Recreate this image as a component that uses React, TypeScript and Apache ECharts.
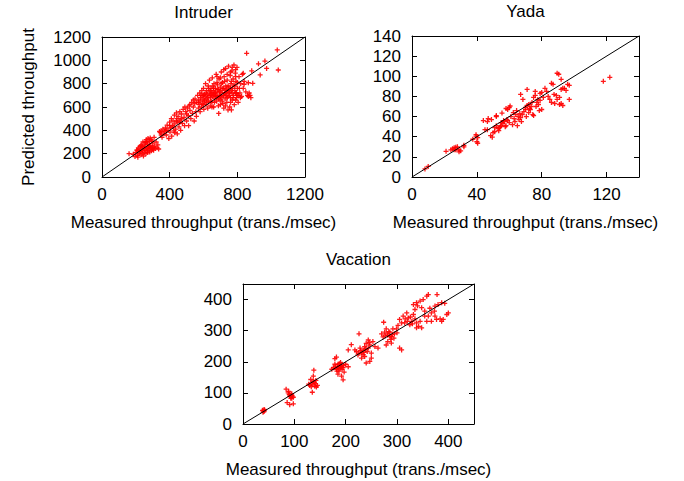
import React, { useEffect, useRef } from "react";
import * as echarts from "echarts";

// ---------- data ----------
const INTRUDER_TITLE = "Intruder";
const YADA_TITLE = "Yada";
const VACATION_TITLE = "Vacation";
const X_NAME = "Measured throughput (trans./msec)";
const Y_NAME = "Predicted throughput";

const INTRUDER_AXIS = { max: 1200, xInterval: 400, yInterval: 200 };
const YADA_AXIS = { max: 140, xInterval: 40, yInterval: 20 };
const VACATION_AXIS = { max: 450, xInterval: 100, yInterval: 100 };

const INTRUDER_POINTS: number[][] = [
  [160, 200], [185, 195], [195, 175], [200, 210], [205, 230], [210, 185], [212, 170], [215, 250], [220, 200], [222, 215],
  [225, 260], [230, 190], [232, 240], [235, 275], [238, 205], [240, 225], [242, 300], [245, 180], [248, 250], [250, 210],
  [252, 265], [255, 235], [258, 290], [260, 200], [262, 320], [265, 245], [268, 225], [270, 280], [272, 330], [275, 255],
  [278, 240], [280, 305], [282, 215], [285, 335], [288, 270], [290, 250], [292, 225], [295, 310], [298, 240], [300, 290],
  [302, 255], [305, 230], [308, 340], [310, 265], [315, 245], [320, 300], [325, 250], [330, 275], [335, 240], [340, 390],
  [210, 230], [225, 220], [240, 260], [255, 300], [265, 300], [280, 260], [300, 240], [290, 320], [270, 210], [230, 270],
  [345, 380], [350, 395], [355, 340], [360, 410], [365, 370], [370, 390], [375, 420], [380, 360], [385, 445], [390, 400],
  [395, 330], [400, 470], [402, 385], [405, 420], [410, 500], [412, 350], [415, 440], [420, 480], [425, 395], [428, 530],
  [430, 455], [435, 410], [440, 550], [442, 500], [445, 370], [448, 470], [450, 520], [455, 430], [460, 560], [462, 490],
  [465, 400], [470, 540], [475, 460], [480, 580], [485, 510], [488, 440], [490, 600], [495, 560], [500, 480], [505, 590],
  [510, 525], [512, 440], [515, 610], [520, 570], [525, 500], [530, 640], [535, 545], [540, 600], [545, 480], [550, 670],
  [555, 560], [558, 520], [540, 660], [548, 630],
  [380, 400], [420, 430], [440, 480], [470, 500], [500, 540], [520, 620], [460, 470], [400, 440], [430, 380], [350, 360],
  [560, 640], [565, 700], [570, 590], [572, 660], [575, 620], [578, 720], [580, 560], [582, 680], [585, 650], [588, 600],
  [590, 740], [592, 700], [595, 630], [598, 670], [600, 760], [602, 580], [605, 710], [608, 650], [610, 690], [612, 800],
  [615, 620], [618, 740], [620, 670], [622, 710], [625, 590], [628, 780], [630, 650], [632, 700], [635, 830], [638, 730],
  [640, 610], [642, 680], [645, 760], [648, 710], [650, 640], [652, 850], [655, 690], [658, 740], [660, 600], [662, 800],
  [665, 720], [668, 670], [670, 760], [672, 700], [675, 880], [678, 650], [680, 730], [682, 790], [685, 690], [688, 610],
  [690, 750], [692, 840], [695, 700], [698, 660], [700, 770], [702, 720], [705, 900], [708, 680], [710, 740], [712, 810],
  [715, 630], [718, 700], [720, 760], [722, 860], [725, 720], [728, 670], [730, 930], [732, 780], [735, 700], [738, 640],
  [740, 830], [742, 740], [745, 690], [748, 950], [750, 770], [752, 720], [755, 600], [758, 870], [760, 680], [762, 800],
  [765, 740], [768, 910], [770, 660], [772, 760], [775, 840], [778, 700], [780, 960], [782, 620], [785, 780], [788, 890],
  [790, 720], [792, 820], [795, 680], [798, 940], [800, 760], [805, 640], [810, 860], [815, 720], [820, 800], [825, 690],
  [830, 880], [835, 760], [840, 820], [850, 730], [860, 700], [865, 690], [870, 720], [875, 700], [880, 680], [690, 545],
  [745, 575], [765, 575], [720, 590],
  [600, 700], [605, 660], [615, 720], [625, 680], [630, 760], [640, 700], [645, 650], [650, 720], [655, 780], [660, 700],
  [665, 640], [670, 720], [675, 690], [680, 810], [685, 750], [690, 670], [695, 730], [700, 690], [705, 800], [710, 650],
  [715, 760], [720, 700], [725, 820], [730, 720], [735, 750], [740, 680], [745, 780], [750, 730], [755, 700], [760, 760],
  [765, 820], [770, 720], [775, 680], [780, 790], [785, 740], [790, 860], [795, 720], [800, 810], [808, 700], [812, 760],
  [818, 680], [760, 900], [740, 880], [720, 920], [700, 850], [680, 860], [660, 760], [640, 740], [620, 640], [600, 620],
  [585, 700], [570, 640], [650, 600], [700, 620], [730, 610], [760, 640], [790, 660], [800, 700], [770, 940], [790, 920],
  [840, 795], [865, 808], [891, 803], [835, 889], [855, 1060], [885, 910], [925, 970], [935, 875], [963, 994], [973, 931],
  [1036, 1089], [1042, 917],
];

const YADA_POINTS: number[][] = [
  [8, 8], [10, 10.5], [21, 25.5], [24, 27], [25, 28], [26, 29], [26, 27], [27, 29.5], [27, 27], [28, 30],
  [29, 27], [30, 26], [29, 25], [32, 31.5], [32, 30], [37.5, 37.5], [39.5, 42], [39.5, 40.5], [40.5, 39], [40, 35],
  [40.5, 33.5], [44, 56], [45, 47], [46.5, 47], [46.5, 55], [47, 58], [48.5, 41], [49.5, 39.5], [49, 57], [50, 44],
  [51, 45], [51, 49], [52, 61], [52, 60], [52, 51], [53, 48], [53.5, 46], [54, 49], [54.5, 50], [55, 51], [55, 54],
  [55.5, 63.5], [56, 53], [56.5, 56], [57, 55], [57.5, 50], [58, 51], [58, 68], [58.5, 57], [59, 56], [59, 67],
  [60, 54], [60, 69], [60.5, 70.5], [61, 60], [62, 52], [62.5, 64], [63, 58], [63.5, 55], [64, 62], [64.5, 66],
  [65, 51], [65.5, 60], [66, 57], [66.5, 63], [67, 59], [67, 82], [67.5, 55], [68, 62], [68.4, 77], [69, 65],
  [70, 69], [70, 67], [70.5, 60], [71, 71], [71, 87], [72, 72], [72, 64], [72.5, 68], [73, 67], [73.5, 70],
  [74, 74], [74.5, 62], [75, 61], [75, 79], [76, 81], [76, 85], [76.5, 70], [77, 74], [77.6, 77], [78, 72],
  [78.5, 66], [79, 76], [79, 83], [80, 67], [80, 84], [81, 79], [82, 88], [83, 85], [84, 80], [85, 77],
  [86, 74], [86, 93], [87, 92], [87.6, 82], [88, 73], [89, 81], [89.5, 77], [89.5, 103], [90.5, 102], [91, 79],
  [91, 72], [92, 73], [92, 97], [92, 87], [93, 88], [93, 71], [94, 88], [95, 86], [96, 92], [97, 91],
  [97, 77], [118, 95], [122, 99],
];

const VACATION_POINTS: number[][] = [
  [38, 44], [40, 42], [41, 40], [42, 45], [39, 38], [41, 47],
  [84, 112], [88, 100], [91, 89], [94, 94], [98, 86], [93, 83], [86, 69], [91, 62], [98, 65], [95, 83], [89, 105],
  [92, 91], [96, 90], [90, 95], [95, 97],
  [138, 173], [137, 154], [134, 132], [130, 124], [140, 121], [143, 119], [135, 102], [132, 143], [137, 138],
  [141, 130], [128, 128], [145, 124], [136, 126], [139, 134], [133, 120], [142, 140],
  [179, 210], [182, 215], [176, 181], [185, 192], [189, 187], [192, 190], [195, 181], [182, 176], [187, 170],
  [190, 198], [173, 176], [197, 167], [192, 154], [195, 142], [205, 184], [179, 192], [184, 184], [189, 178],
  [193, 176], [200, 192], [185, 160], [180, 186], [186, 180], [191, 184], [188, 194], [183, 170], [196, 188],
  [226, 290], [211, 255], [218, 238], [221, 233], [228, 244], [231, 228], [234, 238], [237, 249], [240, 259],
  [244, 270], [247, 254], [242, 233], [231, 212], [237, 217], [247, 201], [240, 196], [250, 228], [253, 265],
  [224, 222], [234, 223], [244, 244], [257, 249], [263, 244], [250, 212], [205, 238], [229, 236], [239, 241],
  [236, 230], [226, 228], [246, 262],
  [274, 327], [270, 290], [276, 295], [279, 306], [282, 285], [286, 295], [289, 280], [292, 306], [295, 290],
  [282, 265], [289, 260], [279, 254], [299, 306], [302, 317], [305, 244], [309, 238], [273, 280], [277, 283],
  [288, 272], [294, 276], [300, 293], [284, 297], [281, 290], [291, 288], [286, 282],
  [305, 336], [312, 347], [319, 357], [322, 341], [329, 330], [332, 352], [338, 325], [342, 314], [325, 319],
  [315, 325], [335, 338], [345, 330], [309, 325], [320, 330], [348, 309], [316, 338], [326, 344], [330, 322],
  [332, 384], [338, 390], [345, 395], [351, 400], [358, 411], [361, 416], [378, 416], [335, 368], [348, 374],
  [354, 363], [367, 357], [374, 379], [380, 384], [387, 390], [393, 388], [400, 357], [374, 347], [367, 330],
  [377, 336], [384, 338], [390, 336], [387, 330], [358, 330], [361, 347], [373, 363], [354, 347], [338, 309],
  [397, 352], [340, 380], [364, 372],
];

const FONT = "'Liberation Sans', Arial, Helvetica, sans-serif";
const RED = "#ff0000";
const PLUS = "path://M3.7,0H6.3V3.7H10V6.3H6.3V10H3.7V6.3H0V3.7H3.7Z";

const GRIDS = [
  { left: 102, top: 37, width: 203, height: 140 },
  { left: 412, top: 36, width: 227, height: 141 },
  { left: 243, top: 284, width: 231, height: 140 },
];

function makeAxes(
  gridIndex: number,
  max: number,
  interval: number,
  dim: "x" | "y",
  hideMax: boolean
) {
  const common = {
    type: "value",
    gridIndex,
    min: 0,
    max,
    interval,
    splitLine: { show: false },
    axisLine: { show: true, onZero: false, lineStyle: { color: "#000", width: 1 } },
    axisTick: { show: true, inside: true, length: 5, lineStyle: { color: "#000", width: 1 } },
  };
  const label = {
    show: true,
    color: "#000",
    fontSize: 17,
    fontFamily: FONT,
    margin: dim === "x" ? 9 : 11,
    showMaxLabel: !hideMax,
    formatter: (v: number) => String(v),
  };
  return [
    { ...common, position: dim === "x" ? "bottom" : "left", axisLabel: label },
    { ...common, position: dim === "x" ? "top" : "right", axisLabel: { show: false } },
  ];
}

export default function App() {
  const ref = useRef<HTMLDivElement>(null);

  useEffect(() => {
    if (!ref.current) return;
    const chart = echarts.init(ref.current, undefined, { renderer: "svg" });

    const panels = [
      { axis: INTRUDER_AXIS, points: INTRUDER_POINTS, title: INTRUDER_TITLE, hideX: false, hideY: false },
      { axis: YADA_AXIS, points: YADA_POINTS, title: YADA_TITLE, hideX: true, hideY: false },
      { axis: VACATION_AXIS, points: VACATION_POINTS, title: VACATION_TITLE, hideX: true, hideY: true },
    ];

    const xAxis: any[] = [];
    const yAxis: any[] = [];
    const series: any[] = [];
    const graphic: any[] = [];

    panels.forEach((p, i) => {
      xAxis.push(...makeAxes(i, p.axis.max, p.axis.xInterval, "x", p.hideX));
      yAxis.push(...makeAxes(i, p.axis.max, p.axis.yInterval, "y", p.hideY));
      series.push({
        type: "line",
        xAxisIndex: i * 2,
        yAxisIndex: i * 2,
        data: [
          [0, 0],
          [p.axis.max, p.axis.max],
        ],
        symbol: "none",
        lineStyle: { color: "#000", width: 1 },
        z: 3,
      });
      series.push({
        type: "scatter",
        xAxisIndex: i * 2,
        yAxisIndex: i * 2,
        data: p.points,
        symbol: PLUS,
        symbolSize: 5,
        itemStyle: { color: RED, opacity: 0.9 },
        z: 2,
      });
      const g = GRIDS[i];
      const cx = g.left + g.width / 2;
      graphic.push({
        type: "text",
        x: cx,
        y: g.top - 25,
        style: { text: p.title, fontSize: 17, fontFamily: FONT, fill: "#000", align: "center", verticalAlign: "middle" },
      });
      graphic.push({
        type: "text",
        x: cx,
        y: g.top + g.height + 45,
        style: { text: X_NAME, fontSize: 17, fontFamily: FONT, fill: "#000", align: "center", verticalAlign: "middle" },
      });
    });

    graphic.push({
      type: "text",
      x: 28,
      y: 107,
      rotation: Math.PI / 2,
      style: { text: Y_NAME, fontSize: 17, fontFamily: FONT, fill: "#000", align: "center", verticalAlign: "middle" },
    });

    chart.setOption({
      animation: false,
      backgroundColor: "#fff",
      grid: GRIDS.map((g) => ({ ...g, containLabel: false })),
      xAxis,
      yAxis,
      series,
      graphic,
    });

    return () => chart.dispose();
  }, []);

  return (
    <div
      ref={ref}
      style={{ position: "fixed", left: 0, top: 0, width: 684, height: 481 }}
    />
  );
}
